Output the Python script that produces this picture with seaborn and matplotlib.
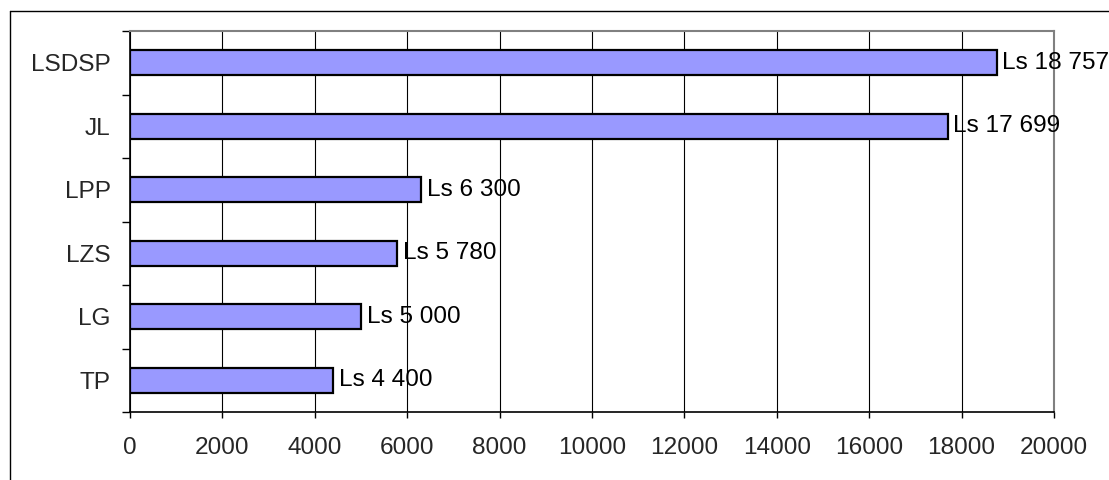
import matplotlib as mpl
import numpy as np
import pandas as pd
mpl.use("Agg")
import matplotlib.pyplot as plt
from matplotlib.lines import Line2D
import seaborn as sns

parties = ['LSDSP', 'JL', 'LPP', 'LZS', 'LG', 'TP']
amounts = [18757, 17699, 6300, 5780, 5000, 4400]
x_ticks = list(range(0, 20001, 2000))

df = pd.DataFrame({'party': parties, 'amount': amounts})

sns.set_style('white')
plt.rcParams['font.family'] = ['Liberation Sans', 'DejaVu Sans']

W, H = 1109, 480
fs = 17.6
fig = plt.figure(figsize=(W / 100, H / 100), dpi=100)
ax = fig.add_axes([130 / W, 1 - 412 / H, (1054 - 130) / W, (412 - 31) / H])

sns.barplot(data=df, x='amount', y='party', orient='h', color='#9999ff',
            saturation=1, width=0.4, edgecolor='black', linewidth=1.6, ax=ax,
            zorder=3)

labels = ['Ls ' + format(v, ',').replace(',', ' ') for v in amounts]
ax.bar_label(ax.containers[0], labels=labels, padding=4, fontsize=fs,
             color='black', zorder=4)

ax.set_xlim(0, 20000)
ax.set_ylim(len(parties) - 0.5, -0.5)
ax.set_xticks(x_ticks)
ax.set_xticklabels([str(t) for t in x_ticks])
ax.xaxis.grid(True, color='black', linewidth=0.8, zorder=0)
ax.yaxis.grid(False)
ax.set_axisbelow(True)

ax.set_yticks(np.arange(-0.5, len(parties), 1.0), minor=True)
ax.tick_params(axis='y', which='major', length=0, pad=14, labelsize=fs)
ax.tick_params(axis='y', which='minor', left=True, length=6, width=1,
               color='black', direction='out')
ax.tick_params(axis='x', which='major', bottom=True, length=4.5, width=1,
               color='black', direction='out', pad=13.5, labelsize=fs)
ax.set_xlabel('')
ax.set_ylabel('')

for side in ['left', 'bottom']:
    ax.spines[side].set_color('black')
    ax.spines[side].set_linewidth(1.2)
for side in ['top', 'right']:
    ax.spines[side].set_color('#808080')
    ax.spines[side].set_linewidth(1.5)
    ax.spines[side].set_visible(True)

# outer chart border (right and bottom edges fall outside the picture)
fig.add_artist(Line2D([9.5 / W, 9.5 / W], [0, 1 - 10.5 / H], color='black', lw=1))
fig.add_artist(Line2D([9.5 / W, 1], [1 - 10.5 / H, 1 - 10.5 / H], color='black', lw=1))

plt.savefig('out.png', dpi=100)
